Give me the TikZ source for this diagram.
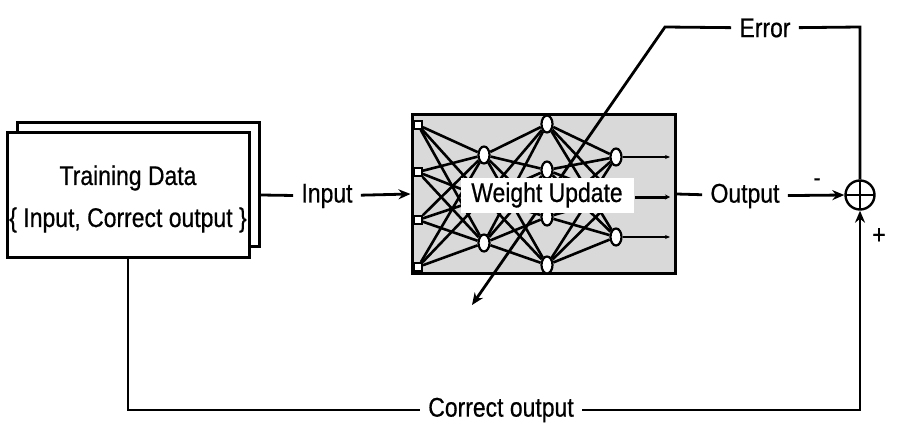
\documentclass[tikz,border=0pt]{standalone}
\usepackage{fontspec}
\setmainfont{Liberation Sans}[FakeStretch=0.85, FakeBold=0.6]
\usetikzlibrary{arrows.meta, shapes.geometric, calc}

\tikzset{
    lbl/.style={fill=white, inner sep=7pt, font=\fontsize{27}{32}\selectfont},
    databox/.style={draw, fill=white, line width=3pt, minimum width=242pt, minimum height=124pt},
    insq/.style={draw, fill=white, line width=1.8pt, minimum size=8pt, inner sep=0pt},
    neuron/.style={draw, ellipse, fill=white, line width=2.2pt, minimum width=11pt, minimum height=17pt, inner sep=0pt},
    wire/.style={line width=2.6pt},
    arr/.style={-{Stealth[length=12pt, width=10pt]}},
}

\begin{document}
\begin{tikzpicture}[x=1pt, y=-1pt, line width=2.8pt]
    \useasboundingbox (0,0) rectangle (899,433);

    % training data (two stacked sheets)
    \node[databox] (databack) at (138.5,184.5) {};
    \node[databox] (data) at (128,195) {};
    \node[align=center, inner sep=0pt, font=\fontsize{27}{32}\selectfont] (datatxt) at (128,199)
        {Training Data\\[10pt]\{ Input, Correct output \}};

    % network box
    \node[draw, fill=gray!30, line width=3pt, minimum width=263pt, minimum height=158pt] (nn) at (543.5,194) {};

    \foreach \y [count=\i] in {125,172,220,267}
        \node[insq] (i\i) at (418,\y) {};
    \foreach \y [count=\i] in {155,198,243}
        \node[neuron] (a\i) at (484,\y) {};
    \foreach \y [count=\i] in {124,170,217,265}
        \node[neuron] (b\i) at (547,\y) {};
    \foreach \y [count=\i] in {157,197,237}
        \node[neuron] (o\i) at (616,\y) {};

    \foreach \i in {1,...,4}
        \foreach \j in {1,...,3}
            \draw[wire] (i\i) -- (a\j);
    \foreach \i in {1,...,3}
        \foreach \j in {1,...,4}
            \draw[wire] (a\i) -- (b\j);
    \foreach \i in {1,...,4}
        \foreach \j in {1,...,3}
            \draw[wire] (b\i) -- (o\j);

    \coordinate (y1) at (670,157);
    \coordinate (y3) at (670,237);
    \coordinate (y2s) at (635,197);
    \coordinate (y2) at (670,197);
    \draw[line width=1.6pt, -{Stealth[length=5pt, width=4pt]}] (o1) -- (y1);
    \draw[line width=1.6pt, -{Stealth[length=5pt, width=4pt]}] (o3) -- (y3);
    \draw[line width=3pt, -{Stealth[length=5pt, width=5pt]}] (y2s) -- (y2);

    % labels
    \node[lbl] (in) at (327,196) {Input};
    \node[lbl] (out) at (745,196) {Output};
    \node[lbl] (err) at (765,28) {Error};
    \node[lbl] (corr) at (501,410) {Correct output};
    \node[draw, circle, fill=white, line width=2.4pt, minimum size=29pt, inner sep=0pt,
          path picture={\draw[line width=2pt] (path picture bounding box.north) -- (path picture bounding box.south)
                        (path picture bounding box.west) -- (path picture bounding box.east);}] (sum) at (860,195) {};
    \node[font=\fontsize{24}{28}\selectfont] (minus) at (817,182) {-};
    \node[font=\fontsize{27}{30}\selectfont] (plus) at (879,236) {+};

    % error fed back into the weights
    \coordinate (bend) at (665,27);
    \coordinate (tip) at (472,305);
    \draw (sum.north) -- (sum |- bend) -- (err);
    \draw[arr] (err) -- (bend) -- (tip);

    \node[fill=white, inner sep=0pt, minimum width=173pt, minimum height=35pt,
          font=\fontsize{27}{32}\selectfont] (wu) at (547,195) {Weight Update};

    % signal path
    \draw ($(databack.east)+(0,10.5)$) -- (in);
    \draw[arr] (in) -- (nn.west);
    \draw (nn.east) -- (out);
    \draw[arr] (out) -- (sum.west);
    \draw (data.south) -- (data.south |- corr) -- (corr);
    \draw[arr] (corr) -- (sum |- corr) -- (sum.south);
\end{tikzpicture}
\end{document}
